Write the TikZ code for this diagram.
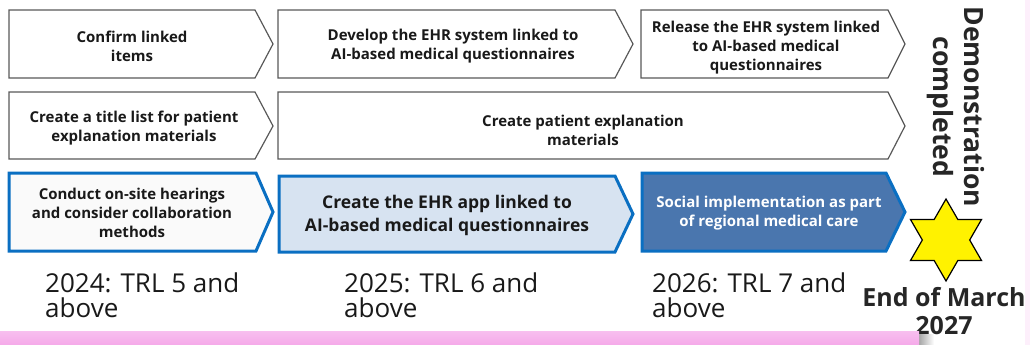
\documentclass[tikz,border=0pt]{standalone}
\usepackage{fontspec}
\setmainfont{Open Sans}
\usetikzlibrary{shapes.geometric}

\definecolor{edgegray}{HTML}{595959}
\definecolor{phaseblue}{HTML}{0A6FC2}
\definecolor{paleblue}{HTML}{D7E3F1}
\definecolor{steelblue}{HTML}{4A76AE}
\definecolor{bandpink}{HTML}{F5A9E9}
\definecolor{inkgray}{HTML}{262626}

\begin{document}
\begin{tikzpicture}[
  x=1pt, y=-1pt,
  chev/.style={draw=edgegray, line width=1.2pt, fill=white, line join=miter},
  phase/.style={draw=phaseblue, line width=3pt, line join=miter},
  lbl/.style={font=\bfseries\fontsize{15}{19}\selectfont, align=center,
              text=black!90, inner sep=0pt},
  biglbl/.style={font=\bfseries\fontsize{17.5}{23}\selectfont, align=center,
              text=black!90, inner sep=0pt},
  yearlbl/.style={font=\fontsize{26}{25}\selectfont, align=left,
              anchor=north west, inner sep=0pt, text=black!90},
]
\useasboundingbox (0,0) rectangle (1030,345);

% task rows
\draw[chev] (9,10) -- (255,10) -- (273,44) -- (255,78) -- (9,78) -- cycle;
\draw[chev] (278,10) -- (615,10) -- (633,44) -- (615,78) -- (278,78) -- cycle;
\draw[chev] (641,10) -- (888,10) -- (905,44) -- (888,78) -- (641,78) -- cycle;
\draw[chev] (9,92) -- (255,92) -- (273,126) -- (255,159) -- (9,159) -- cycle;
\draw[chev] (278,92) -- (888,92) -- (905,126) -- (888,159) -- (278,159) -- cycle;

\node[lbl] (confirm) at (132,46) {Confirm linked\\items};
\node[lbl] (develop) at (453,46) {Develop the EHR system linked to\\AI-based medical questionnaires};
\node[lbl] (release) at (766,48) {Release the EHR system linked\\to AI-based medical\\questionnaires};
\node[lbl] (titles) at (134,128) {Create a title list for patient\\explanation materials};
\node[lbl] (explain) at (583,130) {Create patient explanation\\materials};

% phases
\draw[phase, fill=white!96!gray] (9,173) -- (256,173) -- (273,212) -- (256,251) -- (9,251) -- cycle;
\draw[phase, fill=paleblue] (279,176) -- (615,176) -- (633,214) -- (615,252) -- (279,252) -- cycle;
\draw[phase, fill=steelblue] (642,173) -- (886,173) -- (905,212) -- (886,251) -- (642,251) -- cycle;

\node[lbl] (hearings) at (132,213) {Conduct on-site hearings\\and consider collaboration\\methods};
\node[biglbl] (ehrapp) at (447,215) {Create the EHR app linked to\\AI-based medical questionnaires};
\node[lbl, text=white] (social) at (769,213) {Social implementation as part\\of regional medical care};

% years
\node[yearlbl] (y24) at (45,273) {2024: TRL 5 and\\above};
\node[yearlbl] (y25) at (344,273) {2025: TRL 6 and\\above};
\node[yearlbl] (y26) at (652,273) {2026: TRL 7 and\\above};

% goal
\node[rotate=-90, font=\bfseries\fontsize{26.5}{31}\selectfont, align=center,
      text=inkgray, inner sep=0pt] (demo) at (956,107) {Demonstration\\completed};
\node[star, star points=6, star point ratio=1.732, minimum size=82pt,
      inner sep=0pt, draw=black, line width=1.2pt, fill=yellow] (goal) at (946,240) {};
\node[font=\bfseries\fontsize{25}{28}\selectfont, align=center, text=inkgray,
      inner sep=0pt] (deadline) at (944,311) {End of March\\2027};

% band
\shade[left color=black!35, right color=white] (919,334) rectangle (934,345);
\shade[top color=bandpink!75, bottom color=bandpink] (0,331) rectangle (919,345);
\fill[bandpink!18] (1025,0) rectangle (1030,345);
\end{tikzpicture}
\end{document}
